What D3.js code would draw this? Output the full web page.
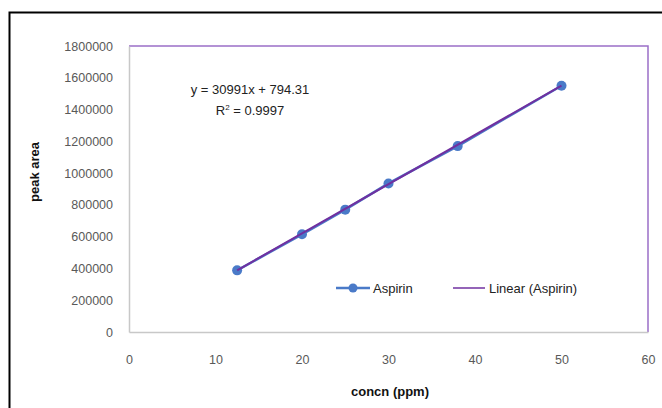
<!DOCTYPE html>
<html>
<head>
<meta charset="utf-8">
<script src="https://cdn.jsdelivr.net/npm/d3@7"></script>
<style>
  body { margin: 0; background: #fff; }
  text { font-family: "Liberation Sans Narrow", "Liberation Sans", Arial, sans-serif; }
</style>
</head>
<body>
<div id="chart"></div>
<script>
// data
var concn = [12.5, 20, 25, 30, 38, 50];
var peakArea = [388000, 615000, 770000, 935000, 1170000, 1550000];
var xTicks = [0, 10, 20, 30, 40, 50, 60];
var yTicks = [0, 200000, 400000, 600000, 800000, 1000000, 1200000, 1400000, 1600000, 1800000];
var slope = 30991, intercept = 794.31;
var eqLabel = "y = 30991x + 794.31";
var r2Label = "0.9997";

var width = 662, height = 408;
var plotLeft = 129, plotRight = 648, plotTop = 46, plotBottom = 332;

var svg = d3.select("#chart").append("svg")
  .attr("width", width)
  .attr("height", height);

// outer chart frame
svg.append("rect")
  .attr("x", 9.5).attr("y", 12.5)
  .attr("width", 670).attr("height", 420)
  .attr("fill", "none")
  .attr("stroke", "#000")
  .attr("stroke-width", 2);

var xScale = d3.scaleLinear().domain([0, 60]).range([plotLeft, plotRight]);
var yScale = d3.scaleLinear().domain([0, 1800000]).range([plotBottom, plotTop]);

// plot area border (purple top/right)
svg.append("path")
  .attr("d", "M" + plotLeft + "," + plotTop + "H" + plotRight + "V" + plotBottom)
  .attr("fill", "none")
  .attr("stroke", "#9b6fc8")
  .attr("stroke-width", 1.5);

var xAxis = d3.axisBottom(xScale).tickValues(xTicks).tickSize(0).tickPadding(23);
var yAxis = d3.axisLeft(yScale).tickValues(yTicks).tickSize(0).tickPadding(16)
  .tickFormat(d3.format("d"));

var gx = svg.append("g")
  .attr("transform", "translate(0," + plotBottom + ")")
  .call(xAxis);
var gy = svg.append("g")
  .attr("transform", "translate(" + plotLeft + ",0)")
  .call(yAxis);

[gx, gy].forEach(function(g) {
  g.select(".domain").attr("stroke", "#c8c8c8").attr("stroke-width", 1.5);
  g.selectAll("text")
    .attr("fill", "#595959")
    .style("font-size", "12.5px")
    .style("font-family", "'Liberation Sans Narrow', 'Liberation Sans', Arial, sans-serif");
});

// series line
var line = d3.line()
  .x(function(d, i) { return xScale(concn[i]); })
  .y(function(d) { return yScale(d); });

svg.append("path")
  .datum(peakArea)
  .attr("d", line)
  .attr("fill", "none")
  .attr("stroke", "#4a7ac8")
  .attr("stroke-width", 2.5);

svg.selectAll("circle.pt")
  .data(peakArea)
  .enter().append("circle")
  .attr("class", "pt")
  .attr("cx", function(d, i) { return xScale(concn[i]); })
  .attr("cy", function(d) { return yScale(d); })
  .attr("r", 5)
  .attr("fill", "#4a7ac8");

// trendline
var xMin = d3.min(concn), xMax = d3.max(concn);
svg.append("line")
  .attr("x1", xScale(xMin)).attr("y1", yScale(slope * xMin + intercept))
  .attr("x2", xScale(xMax)).attr("y2", yScale(slope * xMax + intercept))
  .attr("stroke", "#7030a0")
  .attr("stroke-width", 2);

// equation
svg.append("text")
  .attr("x", 250).attr("y", 94)
  .attr("text-anchor", "middle")
  .style("font-size", "13px")
  .attr("fill", "#222")
  .text(eqLabel);

var r2 = svg.append("text")
  .attr("x", 250).attr("y", 115)
  .attr("text-anchor", "middle")
  .style("font-size", "13px")
  .attr("fill", "#222");
r2.append("tspan").text("R");
r2.append("tspan").attr("dy", -5).style("font-size", "8px").text("2");
r2.append("tspan").attr("dy", 5).text(" = " + r2Label);

// legend
var legY = 288;
svg.append("line")
  .attr("x1", 336).attr("x2", 370).attr("y1", legY).attr("y2", legY)
  .attr("stroke", "#4a7ac8").attr("stroke-width", 2.5);
svg.append("circle")
  .attr("cx", 353).attr("cy", legY).attr("r", 4.5).attr("fill", "#4a7ac8");
svg.append("text")
  .attr("x", 373).attr("y", legY + 5)
  .style("font-size", "13px").attr("fill", "#222")
  .text("Aspirin");

svg.append("line")
  .attr("x1", 453).attr("x2", 485).attr("y1", legY).attr("y2", legY)
  .attr("stroke", "#7030a0").attr("stroke-width", 1.5);
svg.append("text")
  .attr("x", 489).attr("y", legY + 5)
  .style("font-size", "13px").attr("fill", "#222")
  .text("Linear (Aspirin)");

// axis titles
svg.append("text")
  .attr("x", 390).attr("y", 396)
  .attr("text-anchor", "middle")
  .style("font-size", "13px")
  .style("font-weight", "bold")
  .attr("fill", "#111")
  .text("concn (ppm)");

svg.append("text")
  .attr("transform", "translate(39,172) rotate(-90)")
  .attr("text-anchor", "middle")
  .style("font-size", "13px")
  .style("font-weight", "bold")
  .attr("fill", "#111")
  .text("peak area");
</script>
</body>
</html>
